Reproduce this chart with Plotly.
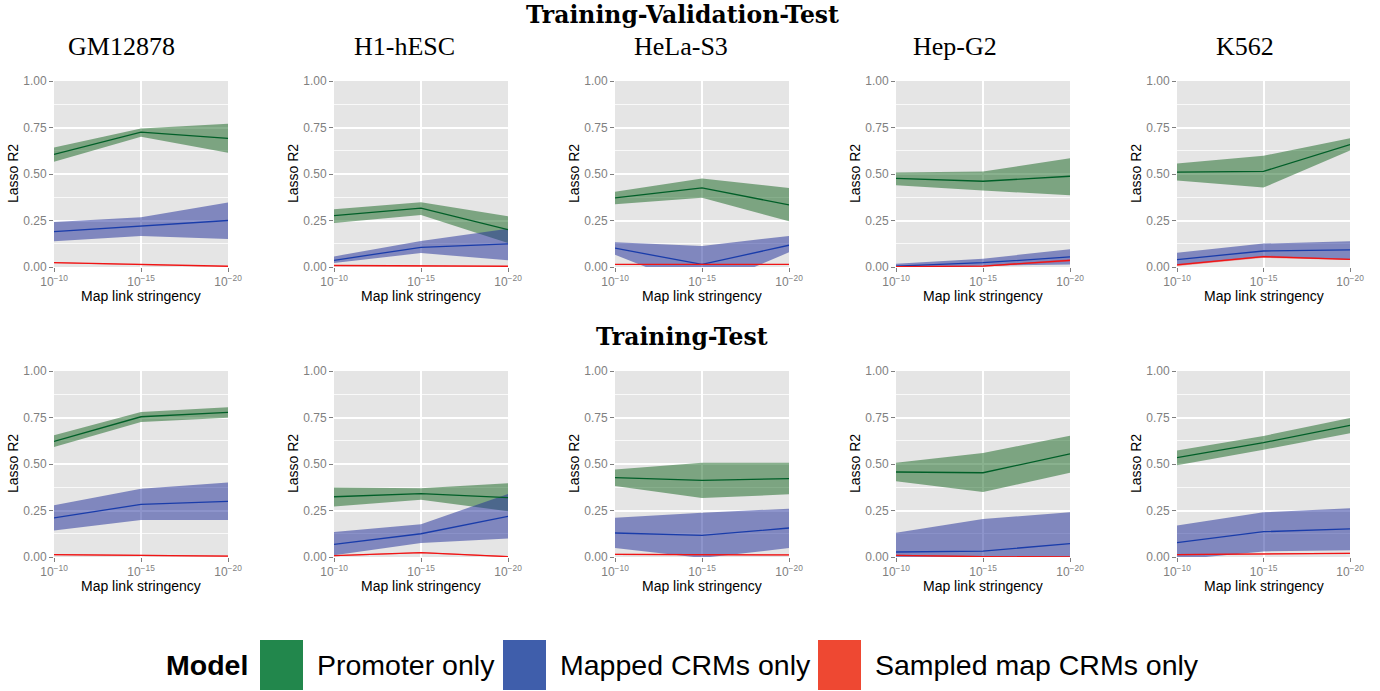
import plotly.graph_objects as go

# ---- data -----------------------------------------------------------------
cell_lines = ["GM12878", "H1-hESC", "HeLa-S3", "Hep-G2", "K562"]
stringency_exp = [10, 15, 20]
stringency_labels = ["10<sup>\u221210</sup>", "10<sup>\u221215</sup>", "10<sup>\u221220</sup>"]
split_titles = ["Training-Validation-Test", "Training-Test"]
model_names = ["Promoter only", "Mapped CRMs only", "Sampled map CRMs only"]

# Training-Validation-Test: mean and ribbon bounds per cell line
tvt_promoter_mean = [[0.605, 0.725, 0.691], [0.276, 0.316, 0.201], [0.372, 0.425, 0.334],
                     [0.476, 0.461, 0.488], [0.510, 0.514, 0.658]]
tvt_promoter_lower = [[0.566, 0.700, 0.614], [0.237, 0.280, 0.129], [0.338, 0.372, 0.246],
                      [0.440, 0.411, 0.386], [0.465, 0.427, 0.627]]
tvt_promoter_upper = [[0.643, 0.745, 0.770], [0.311, 0.348, 0.273], [0.404, 0.476, 0.425],
                      [0.508, 0.513, 0.585], [0.557, 0.598, 0.692]]

tvt_mapped_mean = [[0.190, 0.219, 0.250], [0.036, 0.106, 0.124], [0.101, 0.014, 0.117],
                   [0.005, 0.023, 0.054], [0.040, 0.086, 0.092]]
tvt_mapped_lower = [[0.138, 0.167, 0.151], [0.022, 0.075, 0.036], [0.066, -0.120, 0.079],
                    [-0.005, 0.007, 0.014], [0.011, 0.054, 0.040]]
tvt_mapped_upper = [[0.242, 0.268, 0.347], [0.057, 0.140, 0.206], [0.133, 0.113, 0.167],
                    [0.018, 0.045, 0.095], [0.077, 0.126, 0.139]]

tvt_sampled_mean = [[0.023, 0.013, 0.004], [0.008, 0.006, 0.004], [0.014, 0.014, 0.014],
                    [0.002, 0.005, 0.036], [0.011, 0.056, 0.041]]
tvt_sampled_lower = [[0.020, 0.011, 0.002], [0.006, 0.004, 0.002], [0.012, 0.012, 0.012],
                     [0.000, 0.002, 0.030], [0.005, 0.050, 0.037]]
tvt_sampled_upper = [[0.026, 0.016, 0.006], [0.010, 0.008, 0.006], [0.016, 0.016, 0.016],
                     [0.004, 0.008, 0.041], [0.016, 0.061, 0.045]]

# Training-Test
tt_promoter_mean = [[0.622, 0.754, 0.778], [0.324, 0.341, 0.319], [0.427, 0.412, 0.421],
                    [0.457, 0.453, 0.554], [0.534, 0.615, 0.708]]
tt_promoter_lower = [[0.591, 0.726, 0.749], [0.272, 0.308, 0.246], [0.382, 0.317, 0.337],
                     [0.407, 0.349, 0.453], [0.493, 0.577, 0.665]]
tt_promoter_upper = [[0.654, 0.780, 0.805], [0.373, 0.369, 0.396], [0.470, 0.507, 0.507],
                     [0.507, 0.559, 0.652], [0.573, 0.651, 0.747]]

tt_mapped_mean = [[0.210, 0.283, 0.299], [0.068, 0.125, 0.219], [0.129, 0.116, 0.156],
                  [0.027, 0.032, 0.072], [0.077, 0.136, 0.151]]
tt_mapped_lower = [[0.143, 0.199, 0.199], [0.009, 0.075, 0.099], [0.048, -0.005, 0.048],
                   [-0.080, -0.140, -0.100], [-0.015, 0.030, 0.036]]
tt_mapped_upper = [[0.278, 0.367, 0.400], [0.134, 0.176, 0.339], [0.211, 0.238, 0.260],
                   [0.131, 0.204, 0.240], [0.170, 0.240, 0.262]]

tt_sampled_mean = [[0.013, 0.009, 0.005], [0.007, 0.023, 0.002], [0.014, 0.014, 0.011],
                   [0.009, 0.002, 0.000], [0.013, 0.018, 0.020]]
tt_sampled_lower = [[0.010, 0.006, 0.002], [0.004, 0.020, 0.000], [0.011, 0.011, 0.008],
                    [0.006, 0.000, -0.003], [0.010, 0.015, 0.017]]
tt_sampled_upper = [[0.016, 0.012, 0.008], [0.010, 0.026, 0.005], [0.017, 0.017, 0.014],
                    [0.012, 0.005, 0.003], [0.016, 0.021, 0.023]]

# ---- styling ----------------------------------------------------------------
W, H = 1380, 691
ribbon_colors = ["rgba(20,100,30,0.5)", "rgba(27,41,151,0.5)", "rgba(240,40,40,0.5)"]
line_colors = ["rgb(0,95,40)", "rgb(25,60,170)", "rgb(240,20,20)"]
key_colors = ["#22874c", "#3f5eab", "#ee4832"]
panel_cols_px = [(54, 228), (334, 508), (615, 789), (896, 1070), (1177, 1350)]
panel_rows_px = [(81, 267), (371, 557)]
col_title_x = [121, 404, 681, 955, 1245]
tick_grey = "#7f7f7f"
sans = "Liberation Sans, Arial, sans-serif"
serif = "Liberation Serif, Times New Roman, serif"
serif_bold = "DejaVu Serif, serif"

series = [
    [(tvt_promoter_mean, tvt_promoter_lower, tvt_promoter_upper),
     (tvt_mapped_mean, tvt_mapped_lower, tvt_mapped_upper),
     (tvt_sampled_mean, tvt_sampled_lower, tvt_sampled_upper)],
    [(tt_promoter_mean, tt_promoter_lower, tt_promoter_upper),
     (tt_mapped_mean, tt_mapped_lower, tt_mapped_upper),
     (tt_sampled_mean, tt_sampled_lower, tt_sampled_upper)],
]


def px_x(v):
    return v / W


def px_y(v):
    return 1 - v / H


fig = go.Figure()
layout = {}
annotations = []

for r in range(2):
    top, bottom = panel_rows_px[r]
    for c, cell in enumerate(cell_lines):
        idx = r * 5 + c + 1
        sfx = "" if idx == 1 else str(idx)
        xref, yref = "x" + sfx, "y" + sfx
        left, right = panel_cols_px[c]

        # ribbons first, then mean lines on top
        for m in range(3):
            mean, lower, upper = series[r][m]
            poly_x = stringency_exp + stringency_exp[::-1]
            poly_y = upper[c] + lower[c][::-1]
            fig.add_trace(go.Scatter(
                x=poly_x, y=poly_y, xaxis=xref, yaxis=yref, mode="lines",
                fill="toself", fillcolor=ribbon_colors[m], line=dict(width=0),
                hoverinfo="skip", showlegend=False))
        for m in range(3):
            mean = series[r][m][0]
            fig.add_trace(go.Scatter(
                x=stringency_exp, y=mean[c], xaxis=xref, yaxis=yref, mode="lines",
                line=dict(color=line_colors[m], width=1.3),
                name=model_names[m], showlegend=False))

        layout["xaxis" + sfx] = dict(
            domain=[px_x(left), px_x(right)], anchor=yref, range=[10, 20],
            tickvals=stringency_exp, ticktext=stringency_labels,
            showgrid=True, gridcolor="white", gridwidth=1.6, zeroline=False,
            ticks="outside", ticklen=4, tickcolor=tick_grey, tickwidth=1,
            tickfont=dict(family=sans, size=12, color=tick_grey),
            showline=False, fixedrange=True, automargin=False)
        layout["yaxis" + sfx] = dict(
            domain=[px_y(bottom), px_y(top)], anchor=xref, range=[0, 1],
            tickvals=[0, 0.25, 0.5, 0.75, 1.0],
            ticktext=["0.00", "0.25", "0.50", "0.75", "1.00"],
            showgrid=True, gridcolor="white", gridwidth=1.6, zeroline=False,
            minor=dict(tickvals=[0.125, 0.375, 0.625, 0.875], showgrid=True,
                       gridcolor="rgba(255,255,255,0.75)", gridwidth=0.7, ticks=""),
            ticks="outside", ticklen=4, tickcolor=tick_grey, tickwidth=1,
            tickfont=dict(family=sans, size=12, color=tick_grey),
            showline=False, fixedrange=True, automargin=False)

        # axis titles
        annotations.append(dict(
            text="Lasso R2", xref="paper", yref="paper",
            x=px_x(left - 41), y=px_y((top + bottom) / 2), textangle=-90,
            showarrow=False, xanchor="center", yanchor="middle",
            font=dict(family=sans, size=14, color="black")))
        annotations.append(dict(
            text="Map link stringency", xref="paper", yref="paper",
            x=px_x((left + right) / 2), y=px_y(bottom + 29),
            showarrow=False, xanchor="center", yanchor="middle",
            font=dict(family=sans, size=14, color="black")))

# column headings
for c, cell in enumerate(cell_lines):
    annotations.append(dict(
        text=cell, xref="paper", yref="paper", x=px_x(col_title_x[c]), y=px_y(46),
        showarrow=False, xanchor="center", yanchor="middle",
        font=dict(family=serif, size=26, color="black")))

# row headings
for r, title in enumerate(split_titles):
    annotations.append(dict(
        text="<b>" + title + "</b>", xref="paper", yref="paper",
        x=px_x(682), y=px_y([15, 337][r]), showarrow=False,
        xanchor="center", yanchor="middle",
        font=dict(family=serif_bold, size=23.5, color="black")))

# legend drawn as keys + labels along the bottom
shapes = []
annotations.append(dict(
    text="<b>Model</b>", xref="paper", yref="paper", x=px_x(164), y=px_y(665),
    showarrow=False, xanchor="left", yanchor="middle",
    font=dict(family=sans, size=28.5, color="black")))
key_left_px = [260, 503, 818]
for m, name in enumerate(model_names):
    kx = key_left_px[m]
    shapes.append(dict(
        type="rect", xref="paper", yref="paper",
        x0=px_x(kx), x1=px_x(kx + 43), y0=px_y(690), y1=px_y(640),
        fillcolor=key_colors[m], line=dict(width=0)))
    annotations.append(dict(
        text=name, xref="paper", yref="paper", x=px_x(kx + 55), y=px_y(665),
        showarrow=False, xanchor="left", yanchor="middle",
        font=dict(family=sans, size=28.5, color="black")))

fig.update_layout(
    **layout,
    width=W, height=H, autosize=False,
    margin=dict(l=0, r=0, t=0, b=0, pad=0, autoexpand=False),
    paper_bgcolor="white", plot_bgcolor="#e5e5e5",
    showlegend=False, annotations=annotations, shapes=shapes)

# page without body margin so the figure sits flush in the window
fig.write_html(
    "out.html",
    config={"displayModeBar": False},
    post_script="document.body.style.margin='0';document.body.style.overflow='hidden';",
)
